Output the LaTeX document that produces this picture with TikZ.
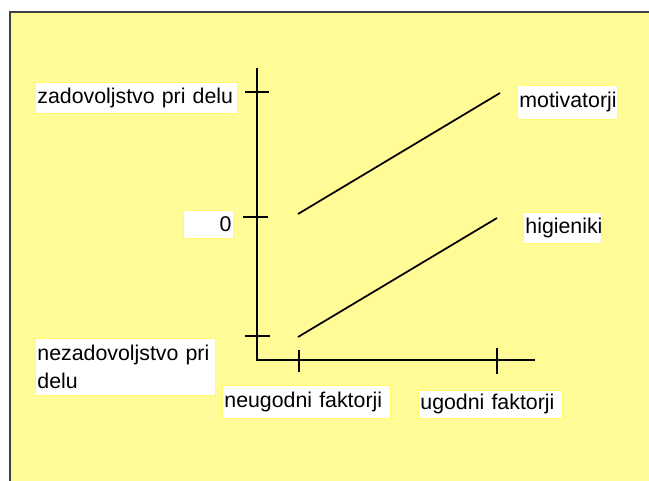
\documentclass[tikz,border=0pt]{standalone}
\usepackage{fontspec}
\setmainfont{Liberation Sans}
\definecolor{bgyellow}{RGB}{255,251,150}
\definecolor{boxedge}{RGB}{255,250,110}
\definecolor{frame}{RGB}{64,64,64}
\begin{document}
\begin{tikzpicture}[x=0.75pt,y=-0.75pt,
  lbl/.style={fill=white,draw=boxedge,line width=0.6pt,inner xsep=1.5pt,inner ysep=0pt,anchor=north west,font=\fontsize{16}{21}\selectfont},
  axis/.style={line width=1.3pt,black},
  tick/.style={line width=1.1pt,black},
  trend/.style={line width=1.3pt,black}]
\useasboundingbox (0,0) rectangle (649,481);
\fill[white] (0,0) rectangle (649,481);
\fill[bgyellow] (10,12) rectangle (652,484);
\draw[frame,line width=1.5pt] (10,484) -- (10,12) -- (652,12);
% axes
\coordinate (ytop) at (257,68);
\coordinate (orig) at (257,360);
\coordinate (xend) at (535,360);
\draw[axis] (ytop) -- (orig) -- (xend);
% y ticks
\coordinate (t1a) at (245,92); \coordinate (t1b) at (269,92);
\coordinate (t2a) at (243,217); \coordinate (t2b) at (268,217);
\coordinate (t3a) at (245,336); \coordinate (t3b) at (270,336);
\draw[tick] (t1a) -- (t1b);
\draw[tick] (t2a) -- (t2b);
\draw[tick] (t3a) -- (t3b);
% x ticks
\coordinate (x1a) at (299,350); \coordinate (x1b) at (299,372);
\coordinate (x2a) at (497,348); \coordinate (x2b) at (497,374);
\draw[tick] (x1a) -- (x1b);
\draw[tick] (x2a) -- (x2b);
% lines
\coordinate (m1) at (298,214); \coordinate (m2) at (500,93);
\coordinate (h1) at (298,337); \coordinate (h2) at (497,218);
\draw[trend] (m1) -- (m2);
\draw[trend] (h1) -- (h2);
% labels
\node[lbl,minimum width=151.5pt,minimum height=23.25pt,text width=148.5pt,align=left] (zad) at (35,82) {zadovoljstvo pri delu};
\node[lbl,minimum width=37.5pt,minimum height=21pt,text width=34.5pt,align=right] (nula) at (183,210) {0};
\node[lbl,minimum width=135pt,minimum height=42.75pt,text width=132pt,align=left] (nez) at (35,338) {nezadovoljstvo pri\\delu};
\node[lbl,minimum width=126pt,minimum height=24.75pt,text width=123pt,align=left] (neug) at (222,385) {neugodni faktorji};
\node[lbl,minimum width=108pt,minimum height=21pt,text width=105pt,align=left] (ug) at (418,390) {ugodni faktorji};
\node[lbl,minimum width=75pt,minimum height=25.5pt,text width=72pt,align=left] (mot) at (517,85) {motivatorji};
\node[lbl,minimum width=58.5pt,minimum height=23.25pt,text width=55.5pt,align=left] (hig) at (523,212) {higieniki};
\end{tikzpicture}
\end{document}
